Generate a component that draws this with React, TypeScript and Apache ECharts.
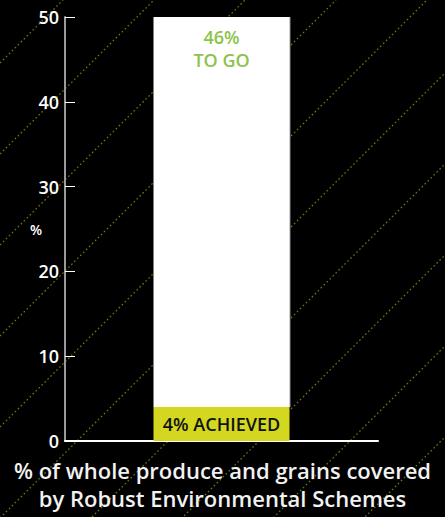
import React, { useEffect, useRef } from "react";
import * as echarts from "echarts";

const categories = ["Robust Environmental Schemes"];
const achieved = [4];
const toGo = [46];
const yTicks = [0, 10, 20, 30, 40, 50];
const titleLines = ["% of whole produce and grains covered", "by Robust Environmental Schemes"];

const W = 445;
const H = 517;
const FONT = "'Open Sans', 'Noto Sans', sans-serif";

// Decorative dotted diagonals running across the whole card (x + y = c).
function diagonals() {
  const items: any[] = [];
  for (let c = 63; c < W + H; c += 91) {
    items.push({
      type: "line",
      silent: true,
      z: 0,
      shape: { x1: 0, y1: c, x2: c, y2: 0 },
      style: { stroke: "#687610", lineWidth: 1.3, lineDash: [1.6, 2.6] },
    });
  }
  return items;
}

export default function App() {
  const ref = useRef<HTMLDivElement>(null);

  useEffect(() => {
    document.body.style.margin = "0";
    document.body.style.background = "#000";
    const chart = echarts.init(ref.current!, null, { renderer: "svg" });
    chart.setOption({
      animation: false,
      backgroundColor: "#000",
      grid: { left: 65, right: 67, top: 17, bottom: 76 },
      xAxis: {
        type: "category",
        data: categories,
        axisLine: { show: true, lineStyle: { color: "#ffffff", width: 2 } },
        axisTick: { show: false },
        axisLabel: { show: false },
      },
      yAxis: {
        type: "value",
        min: yTicks[0],
        max: yTicks[yTicks.length - 1],
        interval: 10,
        name: "%",
        nameLocation: "middle",
        nameGap: 23,
        nameMoveOverlap: false,
        nameRotate: 0,
        nameTextStyle: { color: "#ffffff", fontSize: 14, fontWeight: 600, fontFamily: FONT },
        axisLine: { show: true, lineStyle: { color: "#9a9a9a", width: 2 } },
        axisTick: { show: true, inside: true, length: 10, lineStyle: { color: "#ffffff", width: 1 } },
        axisLabel: { color: "#ffffff", fontSize: 18, fontWeight: 600, fontFamily: FONT, margin: 6 },
        splitLine: { show: false },
      },
      graphic: [
        ...diagonals(),
        {
          type: "text",
          z: 10,
          left: "center",
          top: 456,
          style: {
            text: titleLines.join("\n"),
            fill: "#f2f2f2",
            font: `600 22px ${FONT}`,
            lineHeight: 28,
            textAlign: "center",
          },
        },
      ],
      series: [
        {
          name: "Achieved",
          type: "bar",
          stack: "total",
          data: achieved,
          barWidth: 136,
          z: 5,
          itemStyle: { color: "#d3d71f" },
          label: {
            show: true,
            position: "inside",
            formatter: (p: any) => `${p.value}% ACHIEVED`,
            color: "#111111",
            fontSize: 18,
            fontWeight: 600,
            fontFamily: FONT,
          },
        },
        {
          name: "To go",
          type: "bar",
          stack: "total",
          data: toGo,
          barWidth: 136,
          z: 5,
          itemStyle: { color: "#ffffff", shadowColor: "#8a8a8a", shadowOffsetX: 1, shadowBlur: 0 },
          label: {
            show: true,
            position: "insideTop",
            distance: 8,
            formatter: (p: any) => `${p.value}%\nTO GO`,
            color: "#8cc34b",
            fontSize: 18,
            fontWeight: 600,
            lineHeight: 23,
            fontFamily: FONT,
          },
        },
      ],
    });
    return () => chart.dispose();
  }, []);

  return <div ref={ref} style={{ width: W, height: H }} />;
}
